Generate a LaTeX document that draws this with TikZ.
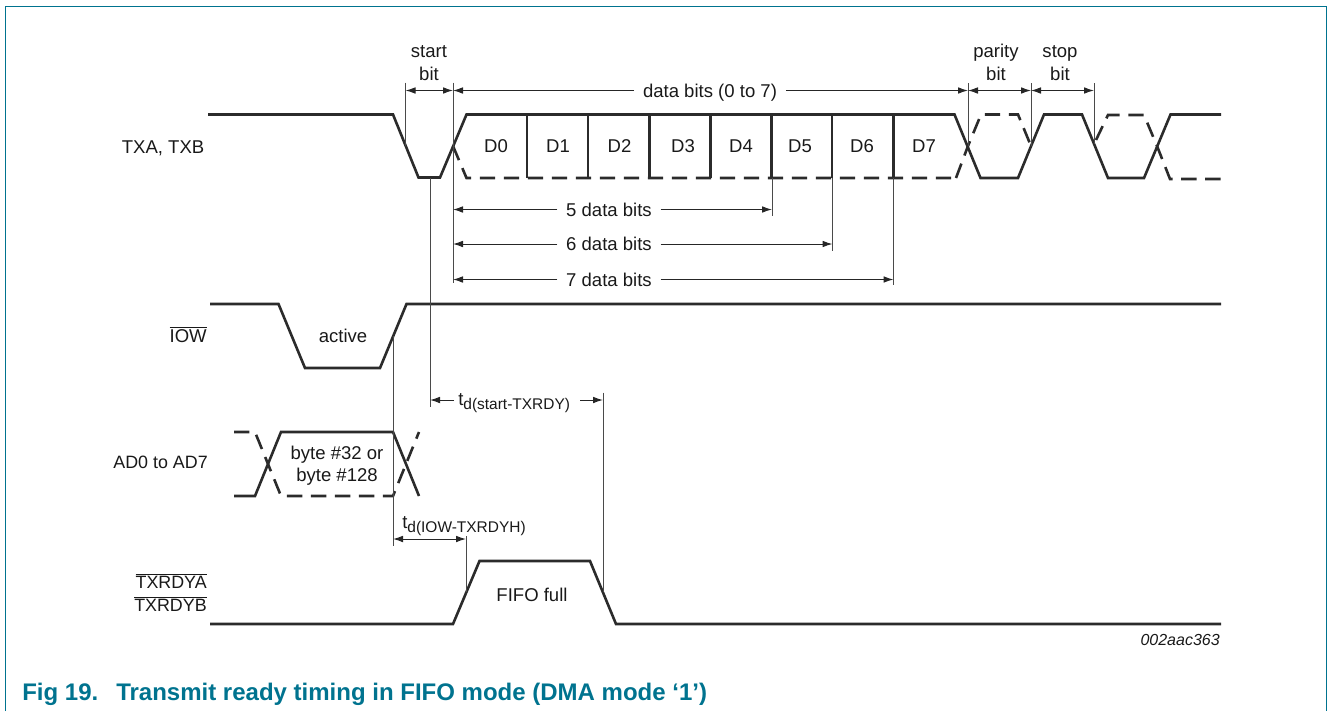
\documentclass[tikz,border=0pt]{standalone}
\usepackage{fontspec}
\setmainfont{Liberation Sans}
\usetikzlibrary{arrows.meta}
\definecolor{nxpteal}{HTML}{00738F}
\definecolor{wave}{HTML}{2B2B2B}
\definecolor{thinline}{HTML}{4A4A4A}
\newcommand{\ov}[1]{$\overline{\hbox{#1}}$}
\newcommand{\sbs}[1]{\raisebox{-3.2pt}{\fontsize{11.6}{13}\selectfont #1}}
\tikzset{
  sig/.style={draw=wave,line width=1.95pt,line join=miter},
  sigd/.style={sig,dash pattern=on 11.5pt off 6.5pt},
  tick/.style={draw=thinline,line width=0.75pt},
  dim/.style={draw=black!85,line width=0.75pt,-{Latex[length=7.5pt,width=5pt]}},
  dimb/.style={dim,{Latex[length=7.5pt,width=5pt]}-{Latex[length=7.5pt,width=5pt]}},
  lbl/.style={font=\fontsize{13.9}{16}\selectfont,inner sep=0pt,text=black!90,text height=10pt,text depth=0pt},
  lbls/.style={lbl,font=\fontsize{13.4}{16}\selectfont},
  gaplbl/.style={lbl,inner xsep=6.5pt,inner ysep=1pt},
}
\begin{document}
\begin{tikzpicture}[x=0.75pt,y=-0.75pt]
\useasboundingbox (0,0) rectangle (1328,711);
% frame
\draw[nxpteal,line width=0.95pt] (5.5,711) -- (5.5,6.5) -- (1326.5,6.5) -- (1326.5,711);

% TXA, TXB
\draw[sig] (208,114.5) -- (393,114.5) -- (418.5,177.5) -- (440,177.5) -- (466.5,114.5) -- (954.5,114.5)
  -- (980.5,178) -- (1018,178) -- (1044,114.5) -- (1082,114.5) -- (1108,178) -- (1144,178) -- (1170.5,114.5) -- (1221,114.5);
\draw[sigd] (453,146) -- (466.5,178) -- (954,178);
\draw[sigd] (956,178) -- (968,146) -- (981,114.5) -- (1018,114.5) -- (1031,146);
\draw[sigd] (1096,140) -- (1108,115) -- (1144,115) -- (1157,146) -- (1170,179) -- (1221,179);
\foreach \x in {527,588,649.5,710.5,771.5,832,893.5}
  \draw[sig,line width=1.7pt] (\x,114.5) -- (\x,178);

% IOW
\draw[sig] (210,304) -- (278.5,304) -- (305,368) -- (380,368) -- (406.5,304) -- (1221,304);
% AD
\draw[sig] (234,496) -- (255,496) -- (281,432) -- (393,432) -- (419,496);
\draw[sigd] (234,432) -- (255,432) -- (268,464) -- (281,496) -- (393,496) -- (419,432);
% TXRDY
\draw[sig] (210,624) -- (453,624) -- (479.5,561) -- (590,561) -- (616,624) -- (1221,624);

% named tick points
\coordinate (sbL) at (405.5,90.5);
\coordinate (sbR) at (453,90.5);
\coordinate (pbL) at (968,90.5);
\coordinate (pbR) at (1031,90.5);
\coordinate (stR) at (1094,90.5);
\coordinate (b5L) at (453,209.5);
\coordinate (b5R) at (772,209.5);
\coordinate (b6L) at (453,244);
\coordinate (b6R) at (832.5,244);
\coordinate (b7L) at (453,279.5);
\coordinate (b7R) at (893.5,279.5);
\coordinate (tsL) at (430,400);
\coordinate (tsR) at (603,400);
\coordinate (tiL) at (393,539);
\coordinate (tiR) at (466,539);

% ticks
\draw[tick] (405.5,82.5) -- (405.5,146);
\draw[tick] (453,82.5) -- (453,283);
\draw[tick] (968,83) -- (968,146);
\draw[tick] (1031,83) -- (1031,146);
\draw[tick] (1094,83) -- (1094,143.5);
\draw[tick] (772,178) -- (772,216);
\draw[tick] (832.5,178) -- (832.5,250.5);
\draw[tick] (893.5,178) -- (893.5,285);
\draw[tick] (430,178) -- (430,407);
\draw[tick] (393,336) -- (393,546);
\draw[tick] (603,392.5) -- (603,592);
\draw[tick] (466,536) -- (466,592);

% left labels
\node[lbl,anchor=east] (ltx) at (204.5,147) {TXA, TXB};
\node[lbl,anchor=east] (liow) at (207,335.5) {\ov{IOW}};
\node[lbls,anchor=east] (lad) at (208,462) {AD0 to AD7};
\node[lbls,anchor=east] (lra) at (207,581.5) {\ov{TXRDYA}};
\node[lbls,anchor=east] (lrb) at (207,605) {\ov{TXRDYB}};

% top labels
\node[lbl] (s1) at (429,51) {start};
\node[lbl] (s2) at (429,74) {bit};
\node[lbl] (p1) at (996,51) {parity};
\node[lbl] (p2) at (996,74) {bit};
\node[lbl] (t1) at (1060,51) {stop};
\node[lbl] (t2) at (1060,74) {bit};

% data cell labels
\foreach \n/\x in {D0/496,D1/558,D2/619.5,D3/683,D4/741,D5/800,D6/862,D7/924}
  \node[lbl] (\n) at (\x,146) {\n};

% inner labels
\node[lbl] (act) at (343,336) {active};
\node[lbl] (by1) at (337,453) {byte \#32 or};
\node[lbl] (by2) at (337,475) {byte \#128};
\node[lbl] (ff) at (532,595) {FIFO full};

% dimension arrows
\draw[dimb] (sbL) -- (sbR);
\draw[dimb] (pbL) -- (pbR);
\draw[dimb] (pbR) -- (stR);
\node[gaplbl] (dbits) at (710,90.5) {data bits (0 to 7)};
\draw[dim] (dbits) -- (sbR);
\draw[dim] (dbits) -- (pbL);
\node[gaplbl] (l5) at (609,209.5) {5 data bits};
\draw[dim] (l5) -- (b5L);
\draw[dim] (l5) -- (b5R);
\node[gaplbl] (l6) at (609,244) {6 data bits};
\draw[dim] (l6) -- (b6L);
\draw[dim] (l6) -- (b6R);
\node[gaplbl] (l7) at (609,279.5) {7 data bits};
\draw[dim] (l7) -- (b7L);
\draw[dim] (l7) -- (b7R);

\node[gaplbl,anchor=base west,inner xsep=0pt] (ts) at (458,405) {t\sbs{d(start-TXRDY)}};
\coordinate (tsA) at (454,400);
\coordinate (tsB) at (580,400);
\draw[dim] (tsA) -- (tsL);
\draw[dim] (tsB) -- (tsR);
\node[gaplbl,anchor=base west,inner xsep=0pt] (ti) at (402,528) {t\sbs{d(IOW-TXRDYH)}};
\draw[dimb] (tiL) -- (tiR);

% figure id and caption
\node[font=\fontsize{12}{14}\itshape,inner sep=0pt,anchor=east,text=black!90] (fid) at (1220,640) {002aac363};
\node[font=\fontsize{18}{20}\bfseries,inner sep=0pt,anchor=base west,text=nxpteal] (cap) at (22,700.5) {Fig 19.\hspace{.75em}Transmit ready timing in FIFO mode (DMA mode ‘1’)};
\end{tikzpicture}
\end{document}
